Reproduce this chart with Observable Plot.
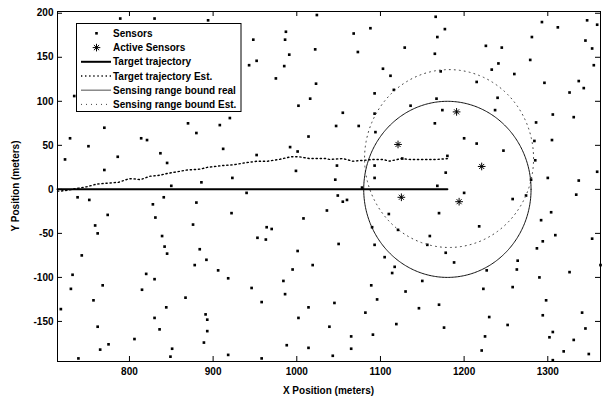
<!DOCTYPE html>
<html><head><meta charset="utf-8">
<script src="https://cdn.jsdelivr.net/npm/d3@7"></script>
<script src="https://cdn.jsdelivr.net/npm/@observablehq/plot@0.6"></script>
<style>body{margin:0;background:#fff}#chart{width:603px;height:398px}</style>
</head><body><div id="chart"></div>
<script>
const sensorX = [789,830,894,1024,1166,1177,1088,1068,1168,1129,1073,1165,1022,987,948,986,991,943,952,985,975,1023,1016,1002,920,908,880,1014,912,992,1001,952,999,923,886,734,770,729,751,814,821,870,723,786,837,845,770,850,1103,1112,1172,1116,1093,1167,1136,1174,1055,1093,1047,1074,1165,1094,1200,1180,1126,1048,1093,1178,1046,1093,1168,1078,1293,1312,1347,1359,1281,1345,1226,1245,1353,1279,1241,1355,1233,1260,1215,1296,1337,1343,1326,1240,1237,1306,1331,1286,1215,1284,1305,1247,1285,1359,1300,1337,1280,1049,1055,1060,1200,1170,1110,1090,1121,1159,1050,1093,1156,1178,1105,1188,1117,1114,1150,1089,1130,1096,1045,1170,1146,1082,1119,1039,1176,1065,1091,1065,1043,1258,1274,1334,1304,1292,1218,1309,1353,1294,1287,1264,1263,1227,1326,1290,1363,1258,1223,1298,1341,1294,1230,1252,1345,1306,1302,1225,1331,1221,1319,1349,1306,940,880,922,1036,1008,876,964,970,953,963,884,1001,892,878,1019,906,995,918,984,946,986,958,1014,891,893,1002,893,889,988,1014,918,958,738,752,841,828,774,831,759,762,839,842,845,743,732,820,830,768,730,815,867,757,718,844,830,762,836,806,775,765,851,849,739];
const sensorY = [194,194,192,198,196,182,183,177,173,161,156,154,159,179,170,170,153,141,146,140,126,120,103,95,81,73,64,60,46,48,43,39,21,13,8,106,70,58,49,58,56,75,34,37,41,30,22,4,137,129,134,113,109,103,95,90,87,86,72,72,75,65,58,38,35,27,27,19,11,13,4,2,190,184,192,187,173,169,163,161,160,147,143,141,136,131,122,121,123,115,110,104,90,85,82,76,52,55,56,44,33,20,13,10,11,-7,-14,-12,-4,-27,-28,-43,-46,-53,-62,-63,-63,-72,-77,-83,-88,-95,-104,-109,-116,-125,-129,-131,-135,-140,-153,-156,-157,-167,-165,-181,-189,-11,-7,-6,-26,-35,-42,-52,-56,-59,-67,-81,-91,-92,-94,-100,-86,-111,-113,-126,-140,-143,-145,-154,-158,-162,-168,-167,-171,-183,-184,-187,-194,-4,-15,-27,-24,-33,-40,-43,-45,-55,-57,-68,-70,-80,-86,-86,-92,-91,-101,-104,-112,-119,-128,-134,-142,-148,-146,-161,-174,-177,-180,-188,-192,-9,-12,-9,-17,-29,-32,-41,-50,-53,-65,-73,-75,-97,-96,-102,-109,-113,-114,-123,-126,-136,-134,-146,-156,-159,-170,-176,-182,-181,-190,-192];
const activeX = [1191,1121,1221,1125,1194];
const activeY = [88,51,26,-9,-14];
const trajX = [714,1180];
const trajY = [0,0];
const estX = [714,717,726,737,749,761,773,787,799,805,813,825,836,845,857,869,885,893,902,911,925,937,953,965,979,993,1003,1015,1025,1035,1039,1055,1067,1080,1091,1103,1111,1125,1135,1151,1167,1182];
const estY = [-2,-2,-1,1,3,6,7,8,12,12,11,15,16,18,20,22,23,25,26,27,28,30,32,32,34,37,37,35,35,35,34,35,32,33,34,34,32,35,34,34,34,35];
const realCircle = [1180,0,100];   // center x, center y, radius
const estCircle = [1182,35,101];
const xTicks = [800,900,1000,1100,1200,1300];
const yTicks = [-150,-100,-50,0,50,100,150,200];
const legendLabels = ["Sensors","Active Sensors","Target trajectory","Target trajectory Est.","Sensing range bound real","Sensing range bound Est."];
const xTitle = "X Position (meters)";
const yTitle = "Y Position (meters)";

const FONT = "Liberation Sans, Arial, Helvetica, sans-serif";
const circ = ([cx,cy,r]) => d3.range(0,361,1).map(a => ({x: cx + r*Math.cos(a*Math.PI/180), y: cy + r*Math.sin(a*Math.PI/180)}));
const sensors = sensorX.map((x,i)=>({x, y: sensorY[i]}));
const active = activeX.map((x,i)=>({x, y: activeY[i]}));
const traj = trajX.map((x,i)=>({x, y: trajY[i]}));
const est = estX.map((x,i)=>({x, y: estY[i]}));

const W = 603, H = 398, mL = 57, mR = 3, mT = 11, mB = 37;
const pw = W-mL-mR, ph = H-mT-mB;

const svg = Plot.plot({
  width: W, height: H,
  marginLeft: mL, marginRight: mR, marginTop: mT, marginBottom: mB,
  style: {fontFamily: FONT, fontSize: "10px", fontWeight: "bold", background: "white", color: "black"},
  x: {domain: [714,1363]},
  y: {domain: [-195.5,202]},
  marks: [
    Plot.dot(sensors, {x:"x", y:"y", symbol:"square", r:1.5, fill:"black", stroke:"none"}),
    Plot.line(circ(estCircle), {x:"x", y:"y", stroke:"#444", strokeWidth:1, strokeDasharray:"1,4"}),
    Plot.line(circ(realCircle), {x:"x", y:"y", stroke:"#111", strokeWidth:1}),
    Plot.line(est, {x:"x", y:"y", stroke:"black", strokeWidth:1.4, strokeDasharray:"1.3,2.8"}),
    Plot.line(traj, {x:"x", y:"y", stroke:"black", strokeWidth:2}),
    Plot.dot(active, {x:"x", y:"y", symbol:"plus", r:2.6, stroke:"black", strokeWidth:1}),
    Plot.dot(active, {x:"x", y:"y", symbol:"times", r:2.4, stroke:"black", strokeWidth:1}),
    Plot.tickX(xTicks, {x: d=>d, insetTop: ph-5, stroke:"black"}),
    Plot.tickX(xTicks, {x: d=>d, insetBottom: ph-5, stroke:"black"}),
    Plot.tickY(yTicks, {y: d=>d, insetRight: pw-5, stroke:"black"}),
    Plot.tickY(yTicks, {y: d=>d, insetLeft: pw-5, stroke:"black"}),
    Plot.axisX({ticks: xTicks, tickSize: 0, tickPadding: 6, label: null, tickFormat: d=>String(d)}),
    Plot.axisY({ticks: yTicks, tickSize: 0, tickPadding: 4, label: null, tickFormat: d=>String(d)}),
    Plot.frame({stroke:"black", strokeWidth:1})
  ]
});

const s = d3.select(svg);
const t = s.append("g").attr("font-family", FONT).attr("font-size", 10).attr("font-weight", "bold").attr("fill","black");
t.append("text").attr("x", (mL + W - mR)/2).attr("y", 390.5).attr("text-anchor","middle").attr("dominant-baseline","central").text(xTitle);
t.append("text").attr("transform", `translate(15,${(mT + H - mB)/2}) rotate(-90)`).attr("text-anchor","middle").attr("dominant-baseline","central").text(yTitle);

// legend
const lg = s.append("g").attr("font-family", FONT).attr("font-size", 10).attr("font-weight", "bold");
lg.append("rect").attr("x",76.5).attr("y",23.5).attr("width",164.5).attr("height",88).attr("fill","white").attr("stroke","black").attr("stroke-width",1);
const rowY = [33.3,47.6,61.8,76,90.2,104.4];
legendLabels.forEach((lab,i)=>{
  lg.append("text").attr("x",113).attr("y",rowY[i]).attr("text-anchor","start").attr("dominant-baseline","central").attr("fill","black").text(lab);
});
lg.append("rect").attr("x",95.2).attr("y",rowY[0]-1.3).attr("width",2.6).attr("height",2.6).attr("fill","black");
const ax = 96.5, ay = rowY[1];
lg.append("path").attr("d",`M${ax-3.8},${ay}H${ax+3.8}M${ax},${ay-3.8}V${ay+3.8}M${ax-2.6},${ay-2.6}L${ax+2.6},${ay+2.6}M${ax-2.6},${ay+2.6}L${ax+2.6},${ay-2.6}`).attr("stroke","black").attr("stroke-width",1).attr("fill","none");
lg.append("line").attr("x1",81).attr("x2",111).attr("y1",rowY[2]).attr("y2",rowY[2]).attr("stroke","black").attr("stroke-width",2);
lg.append("line").attr("x1",81).attr("x2",111).attr("y1",rowY[3]).attr("y2",rowY[3]).attr("stroke","black").attr("stroke-width",1.4).attr("stroke-dasharray","1.3,2.8");
lg.append("line").attr("x1",81).attr("x2",111).attr("y1",rowY[4]).attr("y2",rowY[4]).attr("stroke","#777").attr("stroke-width",1.3);
lg.append("line").attr("x1",81).attr("x2",111).attr("y1",rowY[5]).attr("y2",rowY[5]).attr("stroke","#444").attr("stroke-width",1).attr("stroke-dasharray","1,4");

document.getElementById("chart").appendChild(svg);
</script>
</body></html>
